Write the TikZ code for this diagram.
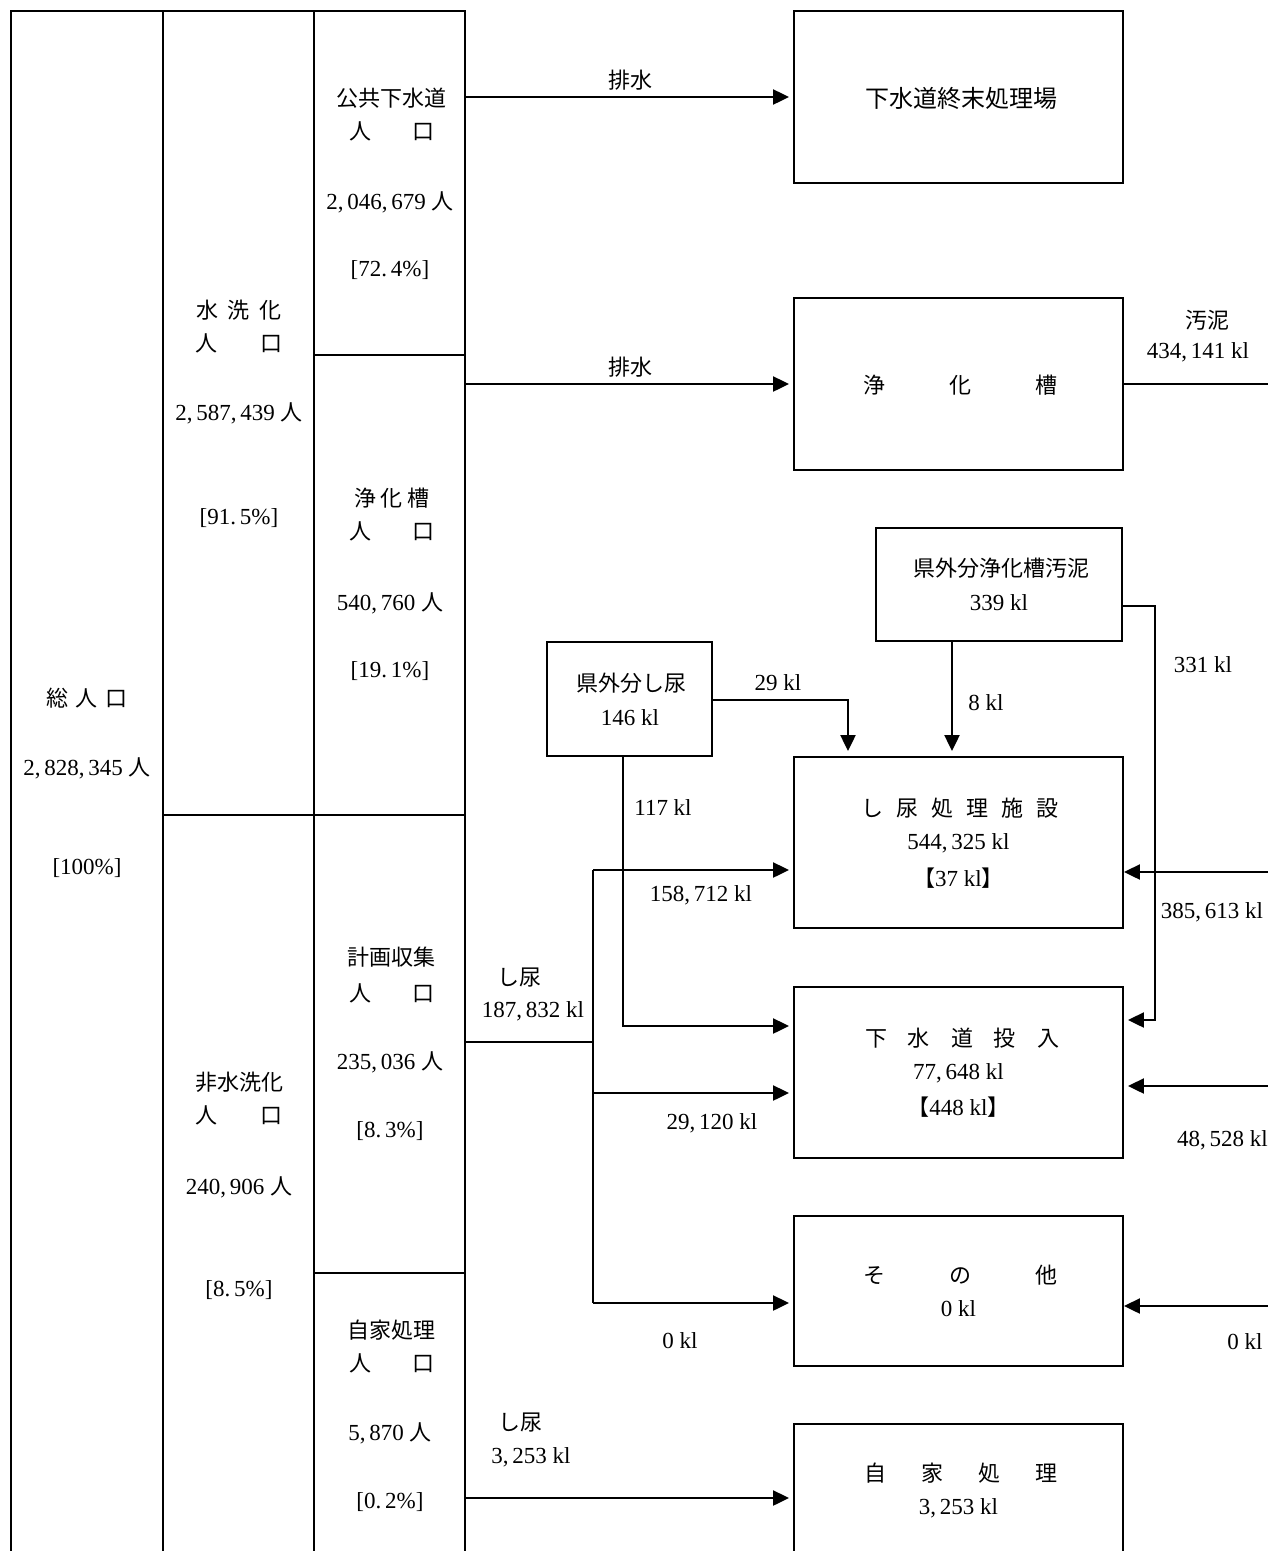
\documentclass[tikz,border=0pt]{standalone}
\usepackage{fontspec}
\setmainfont{Liberation Serif}
\newfontfamily\jp{Noto Sans CJK JP}
\usetikzlibrary{arrows.meta,calc}
\newcommand\gp[1]{\hspace{#1pt}}
\newcommand\J[1]{{\jp\fontsize{22}{25}\selectfont #1}}
\begin{document}
\begin{tikzpicture}[x=1pt,y=-1pt,
  box/.style={draw, line width=1.9pt, inner sep=0pt},
  txt/.style={font=\fontsize{23}{25}\selectfont, inner sep=0pt, align=center},
  jt/.style={txt, font=\fontsize{22}{25}\selectfont\jp},
  flow/.style={line width=2.2pt, -{Triangle[length=16pt,width=15pt]}},
  plain/.style={line width=2.2pt}]
\useasboundingbox (0,0) rectangle (1268,1551);
\clip (0,0) rectangle (1268,1551);
\fill[white] (0,0) rectangle (1268,1551);
% table cells
\node[box, minimum width=152pt, minimum height=1589pt] (c1) at (87,805.5) {};
\node[box, minimum width=151pt, minimum height=804pt] (c2a) at (238.5,413) {};
\node[box, minimum width=151pt, minimum height=785pt] (c2b) at (238.5,1207.5) {};
\node[box, minimum width=151pt, minimum height=344pt] (c3a) at (389.5,183) {};
\node[box, minimum width=151pt, minimum height=460pt] (c3b) at (389.5,585) {};
\node[box, minimum width=151pt, minimum height=458pt] (c3c) at (389.5,1044) {};
\node[box, minimum width=151pt, minimum height=327pt] (c3d) at (389.5,1436.5) {};
% cell texts
\node[jt] (t1a) at (87,698) {総\gp{8}人\gp{8}口};
\node[txt] (t1b) at (87,768) {2,\,828,\,345 \J{人}};
\node[txt] (t1c) at (87,868) {[100\%]};
\node[jt] (t2a) at (239,310) {水\gp{10}洗\gp{10}化};
\node[jt] (t2b) at (239,343) {人\gp{43}口};
\node[txt] (t2c) at (239,413) {2,\,587,\,439 \J{人}};
\node[txt] (t2d) at (239,518) {[91.\,5\%]};
\node[jt] (t2e) at (239,1082) {非水洗化};
\node[jt] (t2f) at (239,1115) {人\gp{43}口};
\node[txt] (t2g) at (239,1187) {240,\,906 \J{人}};
\node[txt] (t2h) at (239,1290) {[8.\,5\%]};
\node[jt] (t3a) at (391,98) {公共下水道};
\node[jt] (t3b) at (392,131) {人\gp{41}口};
\node[txt] (t3c) at (390,202) {2,\,046,\,679 \J{人}};
\node[txt] (t3d) at (390,270) {[72.\,4\%]};
\node[jt] (t3e) at (392,498) {浄\gp{5}化\gp{5}槽};
\node[jt] (t3f) at (392,531) {人\gp{41}口};
\node[txt] (t3g) at (390,603) {540,\,760 \J{人}};
\node[txt] (t3h) at (390,671) {[19.\,1\%]};
\node[jt] (t3i) at (391,957) {計画収集};
\node[jt] (t3j) at (392,993) {人\gp{41}口};
\node[txt] (t3k) at (390,1062) {235,\,036 \J{人}};
\node[txt] (t3l) at (390,1131) {[8.\,3\%]};
\node[jt] (t3m) at (391,1330) {自家処理};
\node[jt] (t3n) at (392,1363) {人\gp{41}口};
\node[txt] (t3o) at (390,1433) {5,\,870 \J{人}};
\node[txt] (t3p) at (390,1502) {[0.\,2\%]};
% right boxes
\node[box, minimum width=329pt, minimum height=172pt] (gesui) at (958.5,97) {};
\node[jt, font=\fontsize{24}{26}\selectfont\jp] (gesuiT) at (961,98) {下水道終末処理場};
\node[box, minimum width=329pt, minimum height=172pt] (jks) at (958.5,384) {};
\node[jt] (jksT) at (960,385) {浄\gp{64}化\gp{64}槽};
\node[box, minimum width=246pt, minimum height=113pt] (ken2) at (999,584.5) {};
\node[jt] (ken2T) at (1001,568) {県外分浄化槽汚泥};
\node[txt] (ken2N) at (999,603) {339 kl};
\node[box, minimum width=165pt, minimum height=114pt] (ken1) at (629.5,699) {};
\node[jt] (ken1T) at (631,683) {県外分し尿};
\node[txt] (ken1N) at (630,718) {146 kl};
\node[box, minimum width=329pt, minimum height=171pt] (shin) at (958.5,842.5) {};
\node[jt] (shinT) at (960,808) {し\gp{13}尿\gp{13}処\gp{13}理\gp{13}施\gp{13}設};
\node[txt] (shinN) at (958.5,843) {544,\,325 kl};
\node[txt] (shinB) at (958.5,878) {\J{【}37 kl\J{】}};
\node[box, minimum width=329pt, minimum height=171pt] (tonyu) at (958.5,1072.5) {};
\node[jt] (tonyuT) at (962,1038) {下\gp{21}水\gp{21}道\gp{21}投\gp{21}入};
\node[txt] (tonyuN) at (958.5,1073) {77,\,648 kl};
\node[txt] (tonyuB) at (958.5,1107) {\J{【}448 kl\J{】}};
\node[box, minimum width=329pt, minimum height=150pt] (sono) at (958.5,1291) {};
\node[jt] (sonoT) at (960,1275) {そ\gp{64}の\gp{64}他};
\node[txt] (sonoN) at (958.5,1309) {0 kl};
\node[box, minimum width=329pt, minimum height=172pt] (jika) at (958.5,1510) {};
\node[jt] (jikaT) at (961,1473) {自\gp{35}家\gp{35}処\gp{35}理};
\node[txt] (jikaN) at (958.5,1508) {3,\,253 kl};
% coordinates
\coordinate (R) at (1268,0);
\coordinate (in1) at (1268,872);
\coordinate (in2) at (1268,1086);
\coordinate (in3) at (1268,1306);
\coordinate (b331) at (1155,606);
\coordinate (e331) at (1155,1020);
\coordinate (x8) at (952,0);
\coordinate (b29) at (848,700);
\coordinate (b117) at (623,1026);
\coordinate (J) at (593,1042);
\coordinate (Jt) at (593,870);
\coordinate (Jm) at (593,1093);
\coordinate (Jb) at (593,1303);
\coordinate (y3) at (0,1498);
% connectors
\draw[flow, shorten >=4pt] (c3a.east |- gesui.west) -- (gesui.west);
\draw[flow, shorten >=4pt] (c3b.east |- jks.west) -- (jks.west);
\draw[plain] (jks.east) -- (jks.east -| R);
\draw[flow] (in1) -- (in1 -| shin.east);
\draw[flow, shorten >=4pt] (in2) -- (in2 -| tonyu.east);
\draw[flow] (in3) -- (in3 -| sono.east);
\draw[flow, shorten >=4pt] (ken2.east |- b331) -- (b331) -- (e331) -- (e331 -| tonyu.east);
\draw[flow, shorten >=5pt] (ken2.south -| x8) -- (shin.north -| x8);
\draw[flow, shorten >=5pt] (ken1.east |- b29) -- (b29) -- (b29 |- shin.north);
\draw[flow, shorten >=4pt] (ken1.south -| b117) -- (b117) -- (b117 -| tonyu.west);
\draw[plain] (c3c.east |- J) -- (J);
\draw[plain] (Jt) -- (Jb);
\draw[flow, shorten >=4pt] (Jt) -- (Jt -| shin.west);
\draw[flow, shorten >=4pt] (Jm) -- (Jm -| tonyu.west);
\draw[flow, shorten >=4pt] (Jb) -- (Jb -| sono.west);
\draw[flow, shorten >=4pt] (c3d.east |- y3) -- (y3 -| jika.west);
% connector labels
\node[jt] (l1) at (630,80) {排水};
\node[jt] (l2) at (630,367) {排水};
\node[jt] (l3) at (1207,320) {汚泥};
\node[txt] (l4) at (1198,352) {434,\,141 kl};
\node[txt] (l5) at (778,683) {29 kl};
\node[txt] (l6) at (986,703) {8 kl};
\node[txt] (l7) at (1203,665) {331 kl};
\node[txt] (l8) at (663,808) {117 kl};
\node[txt] (l9) at (701,895) {158,\,712 kl};
\node[txt] (l10) at (1212,912) {385,\,613 kl};
\node[jt, anchor=west] (l11) at (497,978) {し尿};
\node[txt] (l12) at (533,1011) {187,\,832 kl};
\node[txt] (l13) at (712,1123) {29,\,120 kl};
\node[txt, anchor=east] (l14) at (1268,1140) {48,\,528 kl};
\node[txt] (l15) at (680,1341) {0 kl};
\node[txt] (l16) at (1245,1342) {0 kl};
\node[jt, anchor=west] (l17) at (498,1423) {し尿};
\node[txt] (l18) at (531,1457) {3,\,253 kl};
\end{tikzpicture}
\end{document}
